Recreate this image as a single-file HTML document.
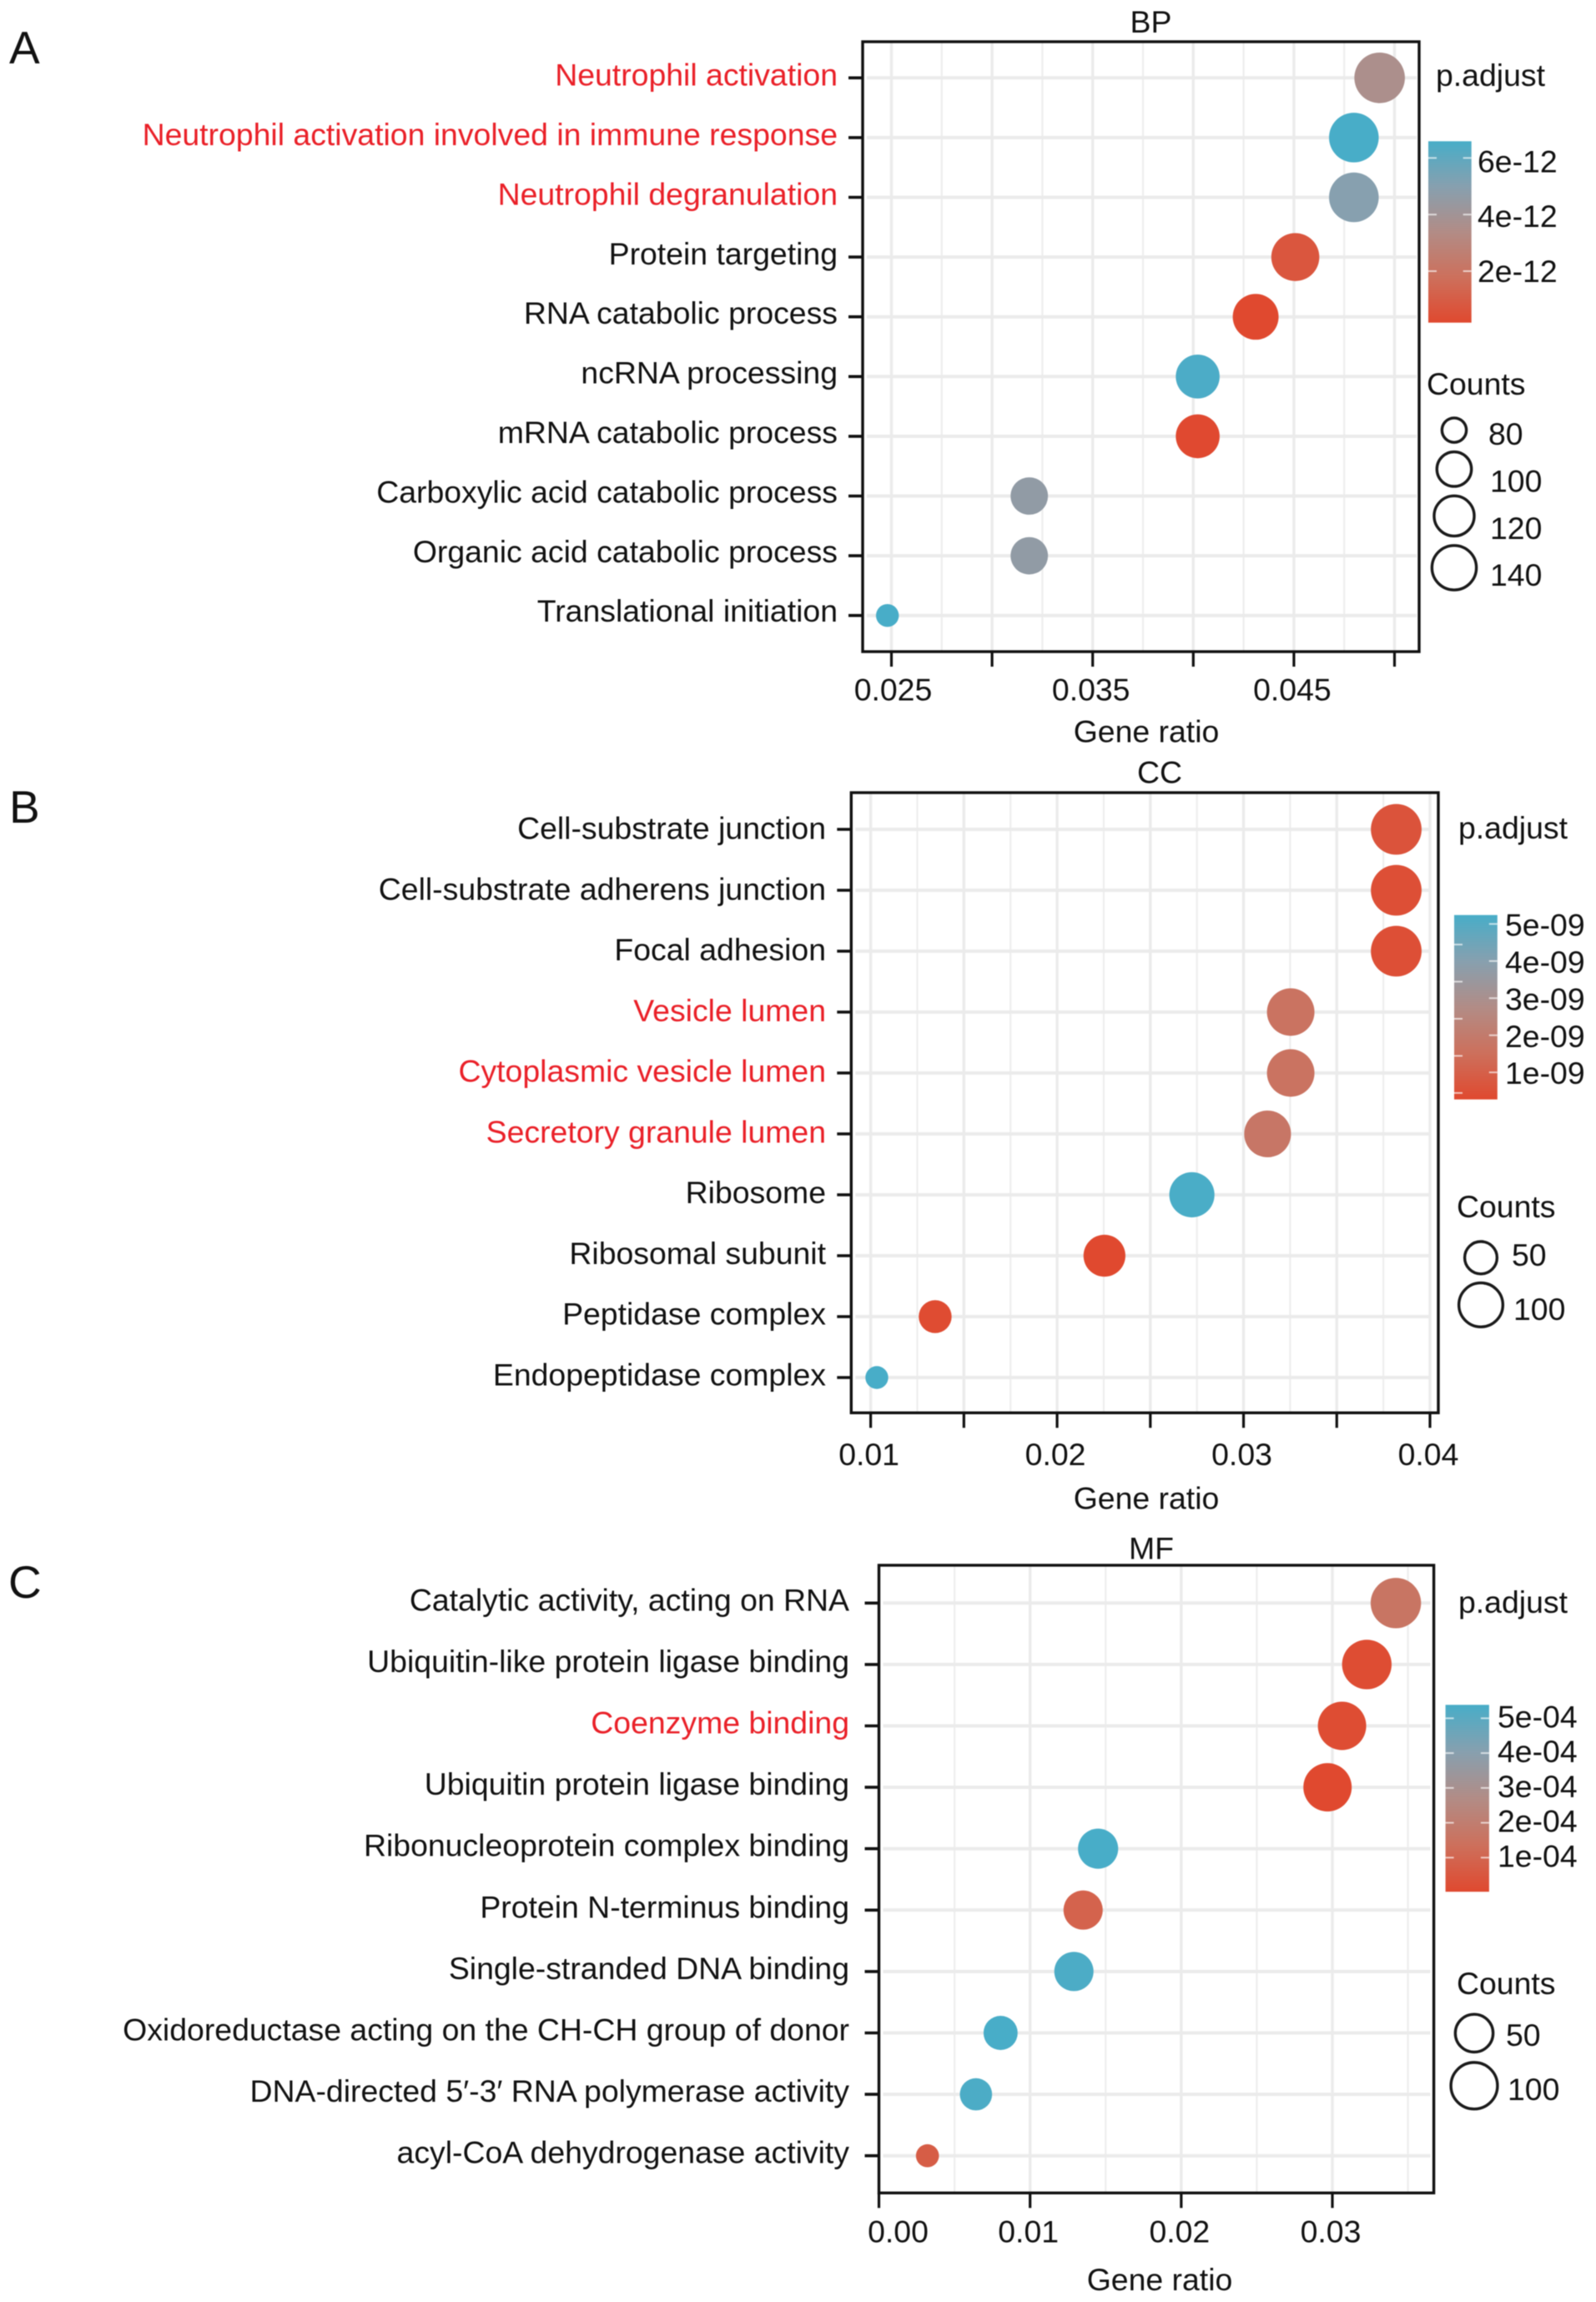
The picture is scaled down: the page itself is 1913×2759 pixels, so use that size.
<!DOCTYPE html>
<html lang="en">
<head>
<meta charset="utf-8">
<title>GO enrichment dot plots</title>
<style>
  html, body { margin: 0; padding: 0; background: #ffffff; }
  svg { display: block; filter: blur(0.5px); }
  text { font-family: "Liberation Sans", sans-serif; font-size: 37.4px; fill: #111111; }
  .panel-letter { font-size: 55px; fill: #111111; }
</style>
</head>
<body>
<svg id="figure" xmlns="http://www.w3.org/2000/svg" width="1913" height="2759" viewBox="0 0 1913 2759">
  <defs>
    <linearGradient id="padjust-gradient" x1="0" y1="1" x2="0" y2="0">
      <stop offset="0" stop-color="rgb(224,73,47)"/>
      <stop offset="0.25" stop-color="rgb(205,112,92)"/>
      <stop offset="0.5" stop-color="rgb(178,140,134)"/>
      <stop offset="0.75" stop-color="rgb(135,160,175)"/>
      <stop offset="1" stop-color="rgb(72,173,200)"/>
    </linearGradient>
  </defs>
  <rect x="0" y="0" width="1913" height="2759" fill="#ffffff"/>

  <g id="panel-a">
    <text class="panel-letter" x="11" y="76">A</text>
    <text x="1379.5" y="39" text-anchor="middle">BP</text>
    <text x="1374" y="889.5" text-anchor="middle">Gene ratio</text>
    <text x="1721" y="103">p.adjust</text>
    <text x="1710" y="473">Counts</text>
  </g>

  <g id="panel-b">
    <text class="panel-letter" x="11" y="986">B</text>
    <text x="1390" y="938.5" text-anchor="middle">CC</text>
    <text x="1374" y="1808.5" text-anchor="middle">Gene ratio</text>
    <text x="1748" y="1005">p.adjust</text>
    <text x="1746" y="1459">Counts</text>
  </g>

  <g id="panel-c">
    <text class="panel-letter" x="10" y="1915">C</text>
    <text x="1380" y="1868.5" text-anchor="middle">MF</text>
    <text x="1390" y="2745" text-anchor="middle">Gene ratio</text>
    <text x="1748" y="1933">p.adjust</text>
    <text x="1746" y="2390">Counts</text>
  </g>
</svg>

<script>
// ---- Panel A (BP) values ----
const bpCategories = ["Neutrophil activation", "Neutrophil activation involved in immune response", "Neutrophil degranulation", "Protein targeting", "RNA catabolic process", "ncRNA processing", "mRNA catabolic process", "Carboxylic acid catabolic process", "Organic acid catabolic process", "Translational initiation"];
const bpHighlighted = [true, true, true, false, false, false, false, false, false, false];
const bpGeneRatio = [0.04926, 0.04798, 0.04798, 0.04507, 0.0431, 0.04022, 0.04022, 0.03185, 0.03185, 0.0248];
const bpCounts = [158, 153, 153, 144, 133, 124, 124, 100, 100, 78];
const bpPAdjust = [3.6e-12, 6.59e-12, 5.0e-12, 0.7e-12, 0.18e-12, 6.5e-12, 0.2e-12, 4.6e-12, 4.6e-12, 6.59e-12];
const bpXTicks = [0.025, 0.03, 0.035, 0.04, 0.045, 0.05];
const bpXTickLabels = ["0.025", "", "0.035", "", "0.045", ""];
const bpMinorTicks = [0.0275, 0.0325, 0.0375, 0.0425, 0.0475];
const bpColorTicks = [6e-12, 4e-12, 2e-12];
const bpColorLabels = ["6e-12", "4e-12", "2e-12"];
const bpSizeBreaks = [80, 100, 120, 140];
const bpSizeLabels = ["80", "100", "120", "140"];

// ---- Panel B (CC) values ----
const ccCategories = ["Cell-substrate junction", "Cell-substrate adherens junction", "Focal adhesion", "Vesicle lumen", "Cytoplasmic vesicle lumen", "Secretory granule lumen", "Ribosome", "Ribosomal subunit", "Peptidase complex", "Endopeptidase complex"];
const ccHighlighted = [false, false, false, true, true, true, false, false, false, false];
const ccGeneRatio = [0.03819, 0.03819, 0.03819, 0.03253, 0.03253, 0.03129, 0.02723, 0.02254, 0.01346, 0.01033];
const ccCounts = [124, 124, 124, 104, 104, 100, 91, 75, 44, 32];
const ccPAdjust = [0.6e-9, 0.45e-9, 0.45e-9, 1.65e-9, 1.65e-9, 1.8e-9, 5.2e-9, 0.27e-9, 0.35e-9, 5.24e-9];
const ccXTicks = [0.01, 0.015, 0.02, 0.025, 0.03, 0.035, 0.04];
const ccXTickLabels = ["0.01", "", "0.02", "", "0.03", "", "0.04"];
const ccMinorTicks = [0.0125, 0.0175, 0.0225, 0.0275, 0.0325, 0.0375];
const ccColorTicks = [5e-9, 4e-9, 3e-9, 2e-9, 1e-9];
const ccColorLabels = ["5e-09", "4e-09", "3e-09", "2e-09", "1e-09"];
const ccSizeBreaks = [50, 100];
const ccSizeLabels = ["50", "100"];

// ---- Panel C (MF) values ----
const mfCategories = ["Catalytic activity, acting on RNA", "Ubiquitin-like protein ligase binding", "Coenzyme binding", "Ubiquitin protein ligase binding", "Ribonucleoprotein complex binding", "Protein N-terminus binding", "Single-stranded DNA binding", "Oxidoreductase acting on the CH-CH group of donor", "DNA-directed 5\u2032-3\u2032 RNA polymerase activity", "acyl-CoA dehydrogenase activity"];
const mfHighlighted = [false, false, true, false, false, false, false, false, false, false];
const mfGeneRatio = [0.0342, 0.03228, 0.03064, 0.02968, 0.0145, 0.01351, 0.0129, 0.00805, 0.00642, 0.00321];
const mfCounts = [107, 101, 93, 93, 48, 44, 44, 26, 21, 10];
const mfPAdjust = [1.6e-4, 0.15e-4, 0.15e-4, 0.02e-4, 5.385e-4, 0.9e-4, 5.3e-4, 5.38e-4, 5.3e-4, 0.7e-4];
const mfXTicks = [0, 0.01, 0.02, 0.03];
const mfXTickLabels = ["0.00", "0.01", "0.02", "0.03"];
const mfMinorTicks = [0.005, 0.015, 0.025, 0.035];
const mfColorTicks = [5e-4, 4e-4, 3e-4, 2e-4, 1e-4];
const mfColorLabels = ["5e-04", "4e-04", "3e-04", "2e-04", "1e-04"];
const mfSizeBreaks = [50, 100];
const mfSizeLabels = ["50", "100"];

// Colour ramp shared by dots (same stops as the colourbar gradient)
const rampColors = [[224, 73, 47], [205, 112, 92], [178, 140, 134], [135, 160, 175], [72, 173, 200]];

const SVG_NS = "http://www.w3.org/2000/svg";

function add(parent, tag, attrs, text) {
  const el = document.createElementNS(SVG_NS, tag);
  for (const k in attrs) el.setAttribute(k, attrs[k]);
  if (text !== undefined) el.textContent = text;
  parent.appendChild(el);
  return el;
}

function rampAt(t) {
  const c = Math.max(0, Math.min(1, t)) * (rampColors.length - 1);
  const i = Math.min(rampColors.length - 2, Math.floor(c));
  const f = c - i;
  const a = rampColors[i], b = rampColors[i + 1];
  return "rgb(" + [0, 1, 2].map(function (k) { return Math.round(a[k] + (b[k] - a[k]) * f); }).join(",") + ")";
}

function drawPanel(key, d, lay) {
  const g = document.getElementById("panel-" + key);
  const x = function (v) { return lay.px0 + (v - lay.v0) / (lay.v1 - lay.v0) * (lay.px1 - lay.px0); };
  const rowY = function (i) { return lay.rowTop + i * lay.rowStep; };
  const cMin = Math.min.apply(null, d.counts), cMax = Math.max.apply(null, d.counts);
  const radius = function (c) {
    const f = Math.max(0, (c - cMin) / (cMax - cMin));
    return lay.rMin + (lay.rMax - lay.rMin) * Math.sqrt(f);
  };
  const pMin = Math.min.apply(null, d.padjust), pMax = Math.max.apply(null, d.padjust);
  const pT = function (p) { return (p - pMin) / (pMax - pMin); };
  const barY = function (p) { return lay.barBottom - pT(p) * (lay.barBottom - lay.barTop); };
  const barMid = (lay.barLabelAnchor === undefined) ? barY(d.colorTicks[Math.floor(d.colorTicks.length / 2)]) : lay.barLabelAnchor;

  // Gridlines
  d.minor.forEach(function (v, i) {
    const el = add(g, "line", { x1: x(v), x2: x(v), y1: lay.top, y2: lay.bottom, stroke: "#eeeeee", "stroke-width": 2.2 });
    
    
  });
  d.xTicks.forEach(function (v, i) {
    const el = add(g, "line", { x1: x(v), x2: x(v), y1: lay.top, y2: lay.bottom, stroke: "#ebebeb", "stroke-width": 3.4 });
    
    
  });
  d.categories.forEach(function (c, i) {
    const el = add(g, "line", { x1: lay.left + 5, x2: lay.right - lay.gridRightInset, y1: rowY(i), y2: rowY(i), stroke: "#ebebeb", "stroke-width": 4 });
    
    
  });

  // Dots
  d.categories.forEach(function (c, i) {
    const el = add(g, "circle", { cx: x(d.ratio[i]), cy: rowY(i), r: radius(d.counts[i]), fill: rampAt(pT(d.padjust[i])) });
    
    
  });

  // Panel border
  const border = add(g, "rect", { x: lay.left, y: lay.top, width: lay.right - lay.left, height: lay.bottom - lay.top, fill: "none", stroke: "#111111", "stroke-width": 3.4 });
  
  

  // Y axis ticks and category labels
  d.categories.forEach(function (c, i) {
    const tick = add(g, "line", { x1: lay.left - 17, x2: lay.left, y1: rowY(i), y2: rowY(i), stroke: "#111111", "stroke-width": 3.6 });
    
    
    const label = add(g, "text", { x: lay.labelRight, y: lay.labelBase + i * lay.labelStep, "text-anchor": "end", style: d.highlighted[i] ? "fill:#ea2028" : "" }, c);
    
    
  });

  // X axis ticks and labels
  d.xTicks.forEach(function (v, i) {
    const tick = add(g, "line", { x1: x(v), x2: x(v), y1: lay.bottom, y2: lay.bottom + 18, stroke: "#111111", "stroke-width": 3.2 });
    
    
    if (d.xLabels[i]) {
      const nudge = (i === 0 ? lay.firstLabelNudge : 0) - 2;
      const label = add(g, "text", { x: x(v) + nudge, y: lay.xLabelBase, "text-anchor": "middle" }, d.xLabels[i]);
      
      
    }
  });

  // Colourbar
  const bar = add(g, "rect", { x: lay.barLeft, y: lay.barTop, width: lay.barRight - lay.barLeft, height: lay.barBottom - lay.barTop, fill: "url(#padjust-gradient)" });
  
  
  d.colorTicks.forEach(function (p, i) {
    const y = barY(p);
    const right = add(g, "line", { x1: lay.barRight - 10, x2: lay.barRight, y1: y, y2: y, stroke: "#ffffff", "stroke-opacity": 0.65, "stroke-width": 2 });
    
    
    const left = add(g, "line", { x1: lay.barLeft, x2: lay.barLeft + 10, y1: y + lay.leftTickShift, y2: y + lay.leftTickShift, stroke: "#ffffff", "stroke-opacity": 0.65, "stroke-width": 2 });
    
    
    const labelCentre = barMid + (y - barMid) * lay.barLabelPull + lay.barLabelShift;
    const label = add(g, "text", { x: lay.barLabelX, y: labelCentre + 13 }, d.colorLabels[i]);
    
    
  });

  // Size legend: rings stack from a starting y, separated by a fixed gap
  let cursor = lay.sizeTop;
  d.sizeBreaks.forEach(function (c, i) {
    const r = radius(c);
    const ring = add(g, "circle", { cx: lay.sizeCx, cy: cursor + r, r: r - 1.7, fill: "none", stroke: "#1a1a1a", "stroke-width": 3.4 });
    
    
    cursor += 2 * r + lay.sizeGap;
    const label = add(g, "text", { x: lay.sizeLabelX + (i > 0 ? 2 : 0), y: lay.sizeLabelBase + i * lay.sizeLabelStep }, d.sizeLabels[i]);
    
    
  });
}

drawPanel("a", {
  categories: bpCategories, highlighted: bpHighlighted, ratio: bpGeneRatio, counts: bpCounts, padjust: bpPAdjust,
  xTicks: bpXTicks, xLabels: bpXTickLabels, minor: bpMinorTicks,
  colorTicks: bpColorTicks, colorLabels: bpColorLabels, sizeBreaks: bpSizeBreaks, sizeLabels: bpSizeLabels
}, {
  left: 1034, right: 1701, top: 50, bottom: 781,
  v0: 0.025, v1: 0.05, px0: 1068.5, px1: 1671.5,
  rowTop: 93.3, rowStep: 71.6, rMin: 13.7, rMax: 30.3, gridRightInset: 3,
  labelRight: 1004, labelBase: 102.6, labelStep: 71.4, xLabelBase: 839.5, firstLabelNudge: 4,
  barLeft: 1712, barRight: 1763.7, barTop: 169.3, barBottom: 386.7, leftTickShift: 0, barLabelX: 1771, barLabelShift: 2, barLabelPull: 0.97,
  sizeCx: 1743, sizeTop: 499.2, sizeGap: 8, sizeLabelX: 1784, sizeLabelBase: 533, sizeLabelStep: 56.4
});

drawPanel("b", {
  categories: ccCategories, highlighted: ccHighlighted, ratio: ccGeneRatio, counts: ccCounts, padjust: ccPAdjust,
  xTicks: ccXTicks, xLabels: ccXTickLabels, minor: ccMinorTicks,
  colorTicks: ccColorTicks, colorLabels: ccColorLabels, sizeBreaks: ccSizeBreaks, sizeLabels: ccSizeLabels
}, {
  left: 1020.3, right: 1724, top: 950, bottom: 1693.3,
  v0: 0.01, v1: 0.04, px0: 1043.6, px1: 1714,
  rowTop: 994, rowStep: 73, rMin: 13.7, rMax: 30.4, gridRightInset: 9,
  labelRight: 990, labelBase: 1005.5, labelStep: 72.75, xLabelBase: 1756, firstLabelNudge: 0,
  barLeft: 1743, barRight: 1794.8, barTop: 1096.7, barBottom: 1317.7, leftTickShift: 24.7, barLabelX: 1804, barLabelShift: 1, barLabelPull: 1,
  sizeCx: 1775, sizeTop: 1486.3, sizeGap: 7.4, sizeLabelX: 1812, sizeLabelBase: 1517, sizeLabelStep: 65
});

drawPanel("c", {
  categories: mfCategories, highlighted: mfHighlighted, ratio: mfGeneRatio, counts: mfCounts, padjust: mfPAdjust,
  xTicks: mfXTicks, xLabels: mfXTickLabels, minor: mfMinorTicks,
  colorTicks: mfColorTicks, colorLabels: mfColorLabels, sizeBreaks: mfSizeBreaks, sizeLabels: mfSizeLabels
}, {
  left: 1053.5, right: 1718.6, top: 1876, bottom: 2628.3,
  v0: 0, v1: 0.03, px0: 1053.5, px1: 1597,
  rowTop: 1921.3, rowStep: 73.6, rMin: 13.8, rMax: 30.2, gridRightInset: 4,
  labelRight: 1018, labelBase: 1930.5, labelStep: 73.55, xLabelBase: 2687.5, firstLabelNudge: 25,
  barLeft: 1732.6, barRight: 1784.9, barTop: 2043.3, barBottom: 2267.3, leftTickShift: 0, barLabelX: 1795, barLabelShift: -2, barLabelPull: 1,
  sizeCx: 1767, sizeTop: 2412.5, sizeGap: 9, sizeLabelX: 1805, sizeLabelBase: 2452, sizeLabelStep: 65
});
</script>
</body>
</html>
